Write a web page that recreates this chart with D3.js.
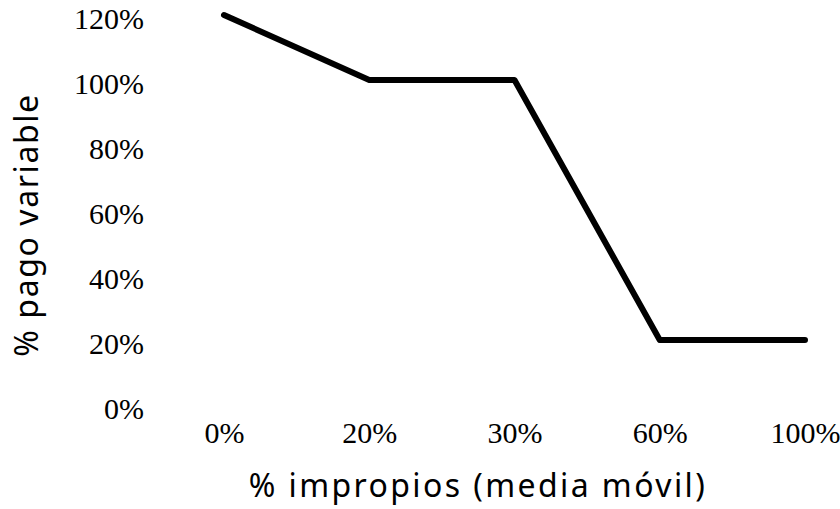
<!DOCTYPE html>
<html><head><meta charset="utf-8">
<script src="https://cdn.jsdelivr.net/npm/d3@7"></script>
<style>body{margin:0;background:#fff}</style>
</head><body>
<svg id="c" width="840" height="509"></svg>
<script>
const categories = ["0%", "20%", "30%", "60%", "100%"];
const values = [120, 100, 100, 20, 20];
const yTicks = [0, 20, 40, 60, 80, 100, 120];
const xTitle = "% impropios (media móvil)";
const yTitle = "% pago variable";

const svg = d3.select("#c");
const x = d3.scalePoint().domain(categories).range([224, 805]);
const y = d3.scaleLinear().domain([0, 120]).range([405, 15]);

const serif = "'Liberation Serif','Times New Roman',serif";
const sans = "'Noto Sans','DejaVu Sans',sans-serif";

const yAxis = svg.append("g").attr("transform", "translate(144,0)")
  .call(d3.axisLeft(y).tickValues(yTicks).tickFormat(d => d + "%").tickSize(0).tickPadding(0));
yAxis.select(".domain").remove();
yAxis.selectAll("text").attr("font-family", serif).attr("font-size", 30).attr("fill", "#000").attr("dy", 13);

const xAxis = svg.append("g").attr("transform", "translate(0,420)")
  .call(d3.axisBottom(x).tickSize(0).tickPadding(0));
xAxis.select(".domain").remove();
xAxis.selectAll("text").attr("font-family", serif).attr("font-size", 30).attr("fill", "#000").attr("dy", 23);

const line = d3.line().x((d, i) => x(categories[i])).y(d => y(d));
svg.append("path").datum(values).attr("d", line)
  .attr("fill", "none").attr("stroke", "#000").attr("stroke-width", 6)
  .attr("stroke-linejoin", "round").attr("stroke-linecap", "round");

svg.append("text").attr("x", 478).attr("y", 497).attr("text-anchor", "middle")
  .attr("font-family", sans).attr("font-size", 32).attr("letter-spacing", 2.4).attr("fill", "#000").text(xTitle);
svg.append("text").attr("transform", "translate(38,225) rotate(-90)").attr("text-anchor", "middle")
  .attr("font-family", sans).attr("font-size", 32).attr("letter-spacing", 1.6).attr("fill", "#000").text(yTitle);
</script>
</body></html>
